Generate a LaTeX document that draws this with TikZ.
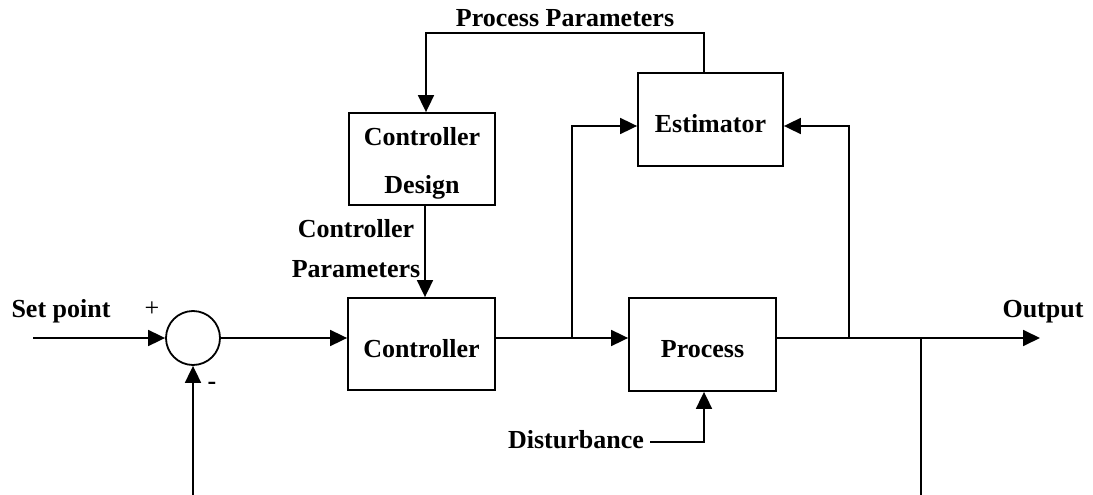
\documentclass[tikz,border=0pt]{standalone}
\usepackage{fontspec}
\setmainfont{Liberation Serif}
\usetikzlibrary{arrows.meta}
\begin{document}
\begin{tikzpicture}[x=1pt,y=-1pt,
  every node/.style={font=\fontsize{26}{31}\selectfont\bfseries},
  blk/.style={draw,line width=1.8pt,inner sep=0pt},
  ln/.style={line width=1.8pt},
  arr/.style={line width=1.8pt,-{Triangle[length=17pt,width=16pt]}},
  lbl/.style={inner sep=0pt,anchor=base}]
\useasboundingbox (0,0) rectangle (1093,495);
% blocks
\node[draw,circle,line width=1.8pt,minimum size=54pt,inner sep=0pt] (sum) at (193,338) {};
\node[blk,minimum width=147pt,minimum height=92pt] (ctrl) at (421.5,344) {};
\node[lbl] (ctrlt) at (421.5,357) {Controller};
\node[blk,minimum width=146pt,minimum height=92pt] (des) at (422,159) {};
\node[lbl] (dest1) at (422,146) {Controller};
\node[lbl] (dest2) at (422,193) {Design};
\node[blk,minimum width=145pt,minimum height=93pt] (est) at (710.5,119.5) {};
\node[lbl] (estt) at (710.5,132) {Estimator};
\node[blk,minimum width=147pt,minimum height=93pt] (proc) at (702.5,344.5) {};
\node[lbl] (proct) at (702.5,357) {Process};
% labels
\node[lbl] (sp) at (61,317) {Set point};
\node[font=\fontsize{26}{31}\selectfont] (plus) at (152,309) {+};
\node (minus) at (212,386) {-};
\node[lbl] (outt) at (1043,317) {Output};
\node[lbl] (pptext) at (565,27) {Process Parameters};
\node[lbl] (cp1) at (356,237) {Controller};
\node[lbl] (cp2) at (356,277) {Parameters};
\node[lbl,inner sep=3pt] (dist) at (576,448) {Disturbance};
% coordinates
\coordinate (in) at (33,338);
\coordinate (j1) at (572,338);
\coordinate (j2) at (849,338);
\coordinate (j3) at (921,338);
\coordinate (out) at (1040,338);
\coordinate (fb1) at (193,495);
\coordinate (fb2) at (921,495);
\coordinate (pp) at (565,33);
\coordinate (dl) at (650,442);
% connectors
\draw[arr] (in) -- (sum.west);
\draw[arr] (sum.east) -- (sum.east -| ctrl.west);
\draw[arr] (sum.east -| ctrl.east) -- (sum.east -| proc.west);
\draw[arr] (j1) |- ([yshift=-6.5pt]est.west);
\draw[arr] (sum.east -| proc.east) -- (out);
\draw[arr] (j2) |- ([yshift=-6.5pt]est.east);
\draw[ln] (j3) -- (fb2);
\draw[arr] (fb1) -- (sum.south);
\draw[arr] ([xshift=-6.5pt]est.north) |- (pp) -| ([xshift=4pt]des.north);
\draw[arr] ([xshift=3pt]des.south) -- ([xshift=3.5pt]ctrl.north);
\draw[arr] (dl) -| ([xshift=1.5pt]proc.south);
\end{tikzpicture}
\end{document}
